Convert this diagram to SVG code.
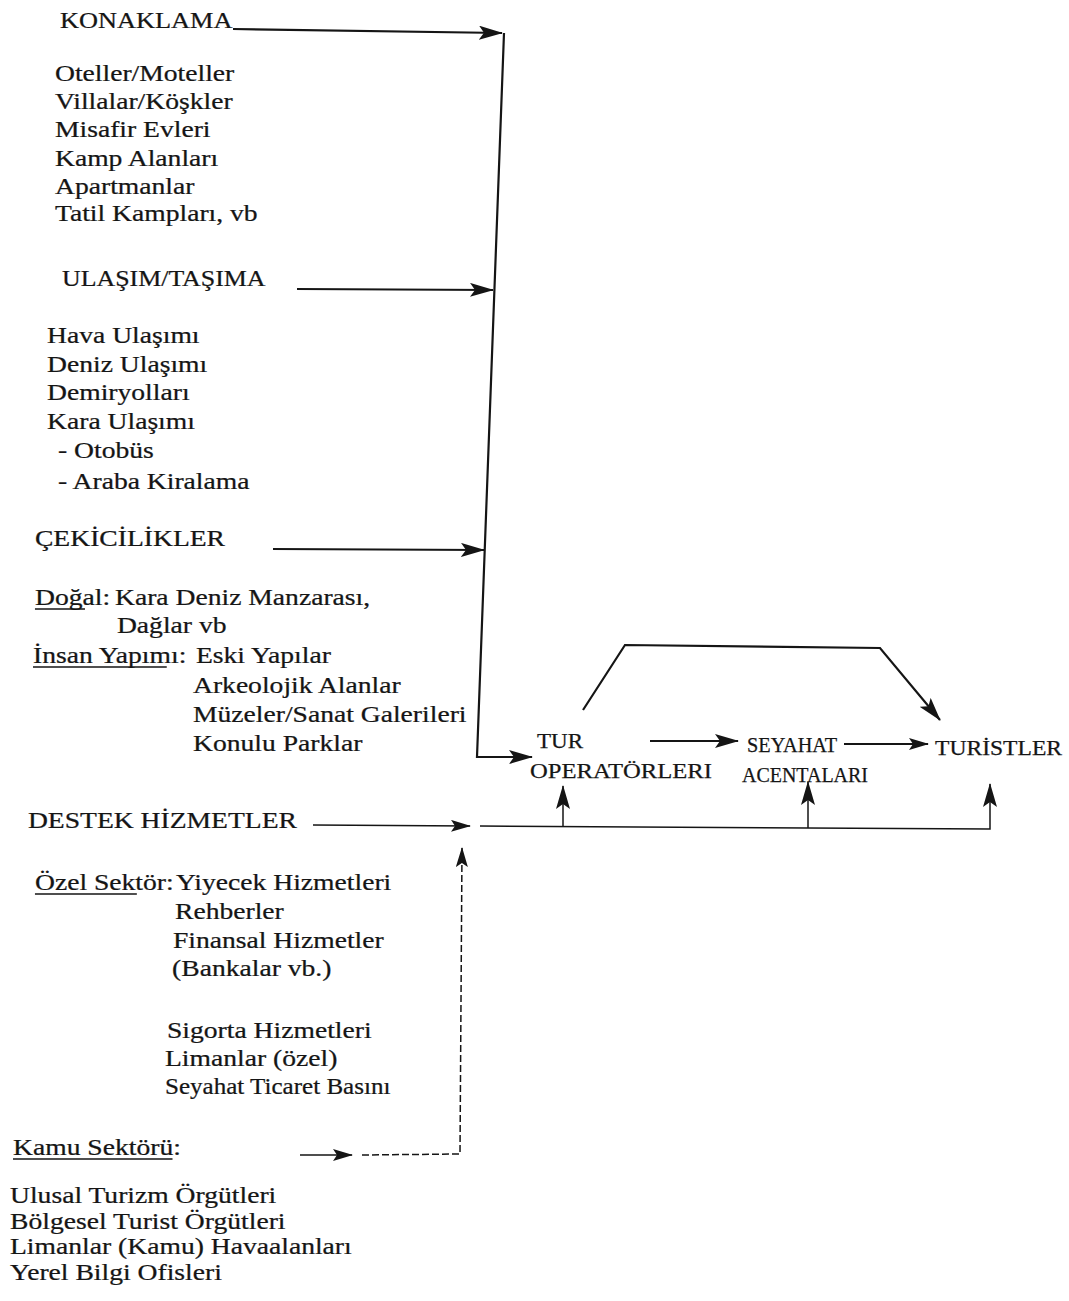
<svg xmlns="http://www.w3.org/2000/svg" width="1069" height="1301" viewBox="0 0 1069 1301">
<defs>
<style>
text{font-family:"Liberation Serif","Times New Roman",serif;fill:#151515;stroke:#151515;stroke-width:0.25;}
.t{font-size:24px;}
.r{font-size:21px;}
.ln{fill:none;stroke:#151515;stroke-width:2.2;}
.thin{fill:none;stroke:#151515;stroke-width:1.5;}
.dash{fill:none;stroke:#151515;stroke-width:1.5;stroke-dasharray:7 3;}
.ul{stroke:#151515;stroke-width:1.3;}
</style>
<marker id="ah" viewBox="0 0 24 14" refX="23" refY="7" markerWidth="24" markerHeight="14" markerUnits="userSpaceOnUse" orient="auto">
<path d="M0,0 L24,7 L0,14 L5,7 z" fill="#151515"/>
</marker>
<marker id="as" viewBox="0 0 20 12" refX="19" refY="6" markerWidth="20" markerHeight="12" markerUnits="userSpaceOnUse" orient="auto">
<path d="M0,0 L20,6 L0,12 L4,6 z" fill="#151515"/>
</marker>
</defs>
<rect width="1069" height="1301" fill="#ffffff"/>

<g id="konaklama" transform="scale(1.15 1)">
<text class="t" x="52.2" y="28" textLength="150" lengthAdjust="spacingAndGlyphs">KONAKLAMA</text>
<text class="t" x="47.8" y="81">Oteller/Moteller</text>
<text class="t" x="47.8" y="109">Villalar/Köşkler</text>
<text class="t" x="47.8" y="137">Misafir Evleri</text>
<text class="t" x="47.8" y="166">Kamp Alanları</text>
<text class="t" x="47.8" y="194">Apartmanlar</text>
<text class="t" x="47.8" y="221">Tatil Kampları, vb</text>
</g>

<g id="ulasim" transform="scale(1.15 1)">
<text class="t" x="53.9" y="286" textLength="177" lengthAdjust="spacingAndGlyphs">ULAŞIM/TAŞIMA</text>
<text class="t" x="40.9" y="343">Hava Ulaşımı</text>
<text class="t" x="40.9" y="372">Deniz Ulaşımı</text>
<text class="t" x="40.9" y="400">Demiryolları</text>
<text class="t" x="40.9" y="429">Kara Ulaşımı</text>
<text class="t" x="50.4" y="458">- Otobüs</text>
<text class="t" x="50.4" y="489">- Araba Kiralama</text>
</g>

<g id="cekicilikler" transform="scale(1.15 1)">
<text class="t" x="30.4" y="546">ÇEKİCİLİKLER</text>
<text class="t" x="30.4" y="605">Doğal:</text>
<line class="ul" x1="30.4" y1="609" x2="73.9" y2="609"/>
<text class="t" x="100" y="605">Kara Deniz Manzarası,</text>
<text class="t" x="101.7" y="633">Dağlar vb</text>
<text class="t" x="28.7" y="663">İnsan Yapımı:</text>
<line class="ul" x1="28.7" y1="667" x2="145" y2="667"/>
<text class="t" x="170.4" y="663">Eski Yapılar</text>
<text class="t" x="167.8" y="693">Arkeolojik Alanlar</text>
<text class="t" x="167.8" y="722">Müzeler/Sanat Galerileri</text>
<text class="t" x="167.8" y="751">Konulu Parklar</text>
</g>

<g id="destek" transform="scale(1.15 1)">
<text class="t" x="24.3" y="828">DESTEK HİZMETLER</text>
<text class="t" x="30.4" y="890">Özel Sektör:</text>
<line class="ul" x1="30.4" y1="894" x2="119" y2="894"/>
<text class="t" x="153" y="890">Yiyecek Hizmetleri</text>
<text class="t" x="152.2" y="919">Rehberler</text>
<text class="t" x="150.4" y="948">Finansal Hizmetler</text>
<text class="t" x="149.6" y="976">(Bankalar vb.)</text>
<text class="t" x="145.2" y="1038">Sigorta Hizmetleri</text>
<text class="t" x="143.5" y="1066">Limanlar (özel)</text>
<text class="t" x="143.5" y="1094" textLength="196" lengthAdjust="spacingAndGlyphs">Seyahat Ticaret Basını</text>
</g>

<g id="kamu" transform="scale(1.15 1)">
<text class="t" x="11.3" y="1155">Kamu Sektörü:</text>
<line class="ul" x1="11.3" y1="1159" x2="150" y2="1159"/>
<text class="t" x="8.7" y="1203">Ulusal Turizm Örgütleri</text>
<text class="t" x="8.7" y="1229">Bölgesel Turist Örgütleri</text>
<text class="t" x="8.7" y="1254">Limanlar (Kamu) Havaalanları</text>
<text class="t" x="8.7" y="1280">Yerel Bilgi Ofisleri</text>
</g>

<g id="tur-operatorleri">
<text class="r" x="537" y="748" textLength="46" lengthAdjust="spacingAndGlyphs">TUR</text>
<text class="r" x="530" y="778" textLength="182" lengthAdjust="spacingAndGlyphs">OPERATÖRLERI</text>
</g>

<g id="seyahat-acentalari">
<text class="r" x="747" y="752" textLength="90" lengthAdjust="spacingAndGlyphs">SEYAHAT</text>
<text class="r" x="742" y="782" textLength="126" lengthAdjust="spacingAndGlyphs">ACENTALARI</text>
</g>

<g id="turistler">
<text class="r" x="935" y="755" textLength="127" lengthAdjust="spacingAndGlyphs">TURİSTLER</text>
</g>

<g id="connectors">
<path class="ln" d="M233,29 L502,33" marker-end="url(#ah)"/>
<path class="ln" d="M297,289 L493,290" marker-end="url(#ah)"/>
<path class="ln" d="M273,549 L484,550" marker-end="url(#ah)"/>
<path class="ln" d="M504,33 L477,757 L532,757" marker-end="url(#ah)"/>
<path class="ln" d="M650,741 L738,741" marker-end="url(#ah)"/>
<path class="ln" d="M844,744 L928,744" marker-end="url(#as)"/>
<path class="ln" d="M583,710 L625,645 L880,648 L940,720" marker-end="url(#ah)"/>
<path class="thin" d="M480,826 L990,829 L990,784" marker-end="url(#ah)"/>
<path class="thin" d="M563,827 L563,786" marker-end="url(#ah)"/>
<path class="thin" d="M808,828 L808,782" marker-end="url(#ah)"/>
<path class="thin" d="M313,825 L470,826" marker-end="url(#as)"/>
<path class="thin" d="M300,1155 L352,1155" marker-end="url(#as)"/>
<path class="dash" d="M362,1155 L460,1154 L462,848" marker-end="url(#as)"/>
</g>
</svg>
